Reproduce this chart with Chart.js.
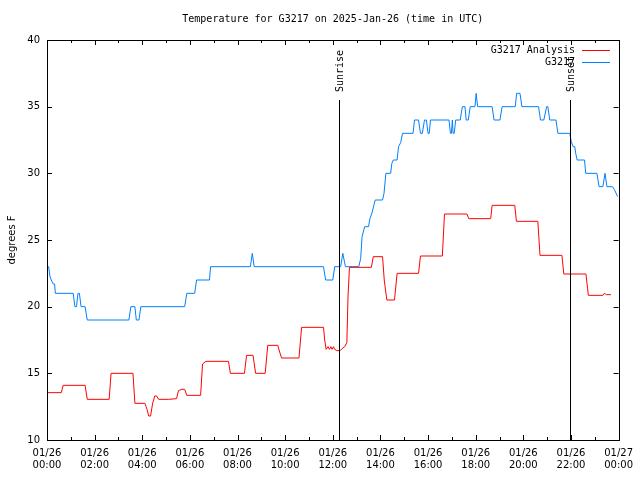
<!DOCTYPE html>
<html lang="en">
<head>
    <meta charset="UTF-8">
    <title>Temperature for G3217</title>
    <script src="https://cdn.jsdelivr.net/npm/chart.js@4.4.1/dist/chart.umd.min.js"></script>
    <style>
        body { margin: 0; background: #fff; }
        canvas { display: block; }
    </style>
</head>
<body>
    <canvas id="tempChart" width="640" height="480"></canvas>

    <script>
        // Data (hours since 00:00 UTC, degrees F)
        const analysisHours = [0, 0.6, 0.68, 1.6, 1.69, 2.61, 2.69, 3.61, 3.69, 4.11, 4.16, 4.2, 4.27, 4.35, 4.44, 4.48, 4.52, 4.6, 4.69, 5.11, 5.44, 5.52, 5.66, 5.78, 5.87, 6.45, 6.53, 6.67, 7.62, 7.7, 8.29, 8.38, 8.65, 8.76, 9.16, 9.27, 9.69, 9.77, 9.85, 10.58, 10.69, 11.61, 11.66, 11.72, 11.8, 11.86, 11.92, 11.97, 12.03, 12.08, 12.17, 12.31, 12.42, 12.5, 12.59, 12.64, 12.7, 13.62, 13.7, 14.09, 14.16, 14.27, 14.59, 14.7, 15.6, 15.68, 16.6, 16.69, 17.63, 17.71, 18.63, 18.69, 19.64, 19.71, 20.61, 20.7, 21.62, 21.7, 22.63, 22.73, 23.34, 23.4, 23.45, 23.5, 23.68];
        const analysisTemps = [13.55, 13.55, 14.1, 14.1, 13.05, 13.05, 15, 15, 12.75, 12.75, 12.5, 12.3, 11.8, 11.8, 12.8, 13.0, 13.3, 13.3, 13.05, 13.05, 13.1, 13.7, 13.8, 13.8, 13.35, 13.35, 15.7, 15.9, 15.9, 15, 15, 16.35, 16.35, 15, 15, 17.1, 17.1, 16.6, 16.15, 16.15, 18.45, 18.45, 17.5, 16.8, 17.0, 16.8, 17.0, 16.8, 17.0, 16.8, 16.7, 16.7, 16.9, 17.0, 17.3, 20.8, 22.95, 22.95, 23.75, 23.75, 22, 20.5, 20.5, 22.5, 22.5, 23.8, 23.8, 26.95, 26.95, 26.6, 26.6, 27.6, 27.6, 26.4, 26.4, 23.85, 23.85, 22.45, 22.45, 20.85, 20.85, 21.0, 20.95, 20.9, 20.9];

        const obsHours = [0, 0.07, 0.12, 0.18, 0.26, 0.32, 0.35, 1.1, 1.17, 1.24, 1.3, 1.36, 1.43, 1.6, 1.69, 3.44, 3.52, 3.69, 3.75, 3.86, 3.94, 5.78, 5.87, 6.2, 6.28, 6.82, 6.87, 8.54, 8.62, 8.7, 11.61, 11.7, 12.0, 12.08, 12.33, 12.42, 12.53, 13.09, 13.17, 13.23, 13.3, 13.34, 13.5, 13.56, 13.64, 13.78, 14.09, 14.15, 14.23, 14.43, 14.48, 14.54, 14.7, 14.76, 14.85, 14.93, 15.37, 15.43, 15.6, 15.68, 15.76, 15.85, 15.93, 16.0, 16.05, 16.1, 16.88, 16.94, 16.98, 17.02, 17.05, 17.1, 17.16, 17.35, 17.44, 17.55, 17.6, 17.69, 17.77, 17.97, 18.02, 18.08, 18.13, 18.69, 18.77, 19.02, 19.11, 19.66, 19.72, 19.86, 19.94, 20.64, 20.72, 20.86, 20.98, 21.03, 21.11, 21.37, 21.45, 21.95, 22.01, 22.09, 22.16, 22.2, 22.26, 22.57, 22.62, 23.09, 23.18, 23.34, 23.43, 23.51, 23.74, 23.82, 23.96];
        const obsTemps = [23, 23, 22.3, 22, 21.7, 21.7, 21, 21, 20, 20, 21, 21, 20, 20, 19, 19, 20, 20, 19, 19, 20, 20, 21, 21, 22, 22, 23, 23, 24, 23, 23, 22, 22, 23, 23, 24, 23, 23, 23.6, 25.25, 25.75, 26, 26, 26.6, 27, 28, 28, 28.5, 30, 30, 30.75, 31, 31, 32, 32.3, 33, 33, 34, 34, 33, 33, 34, 34, 33, 33, 34, 34, 33, 33, 34, 33, 33, 34, 34, 35, 35, 34, 34, 35, 35, 36, 35, 35, 35, 34, 34, 35, 35, 36, 36, 35, 35, 34, 34, 35, 35, 34, 34, 33, 33, 32.4, 32, 32, 31.5, 31, 31, 30, 30, 29, 29, 30, 29, 29, 28.8, 28.25];

        const seriesLabels = ['G3217 Analysis', 'G3217'];
        const seriesColors = ['#ff0000', '#0080ff'];

        const sunLabels = ['Sunrise', 'Sunset'];
        const sunHours = [12.26, 21.96];
        const sunLineTop = 35.5;

        const xTickDay = ['01/26', '01/27'];
        const yTicks = [10, 15, 20, 25, 30, 35, 40];

        const monoFont = '10px "DejaVu Sans Mono", monospace';

        function toPoints(hours, temps) {
            return hours.map((h, i) => ({ x: h, y: temps[i] }));
        }

        // Frame, inward ticks, sunrise/sunset markers and legend
        const decorations = {
            id: 'decorations',
            afterDatasetsDraw(chart) {
                const { ctx, chartArea: a, scales: { x, y } } = chart;
                ctx.save();
                ctx.strokeStyle = '#000';
                ctx.lineWidth = 1;

                // sunrise / sunset
                ctx.fillStyle = '#000';
                ctx.font = monoFont;
                sunHours.forEach((h, i) => {
                    const px = Math.round(x.getPixelForValue(h)) + 0.5;
                    const top = y.getPixelForValue(sunLineTop);
                    ctx.beginPath();
                    ctx.moveTo(px, top);
                    ctx.lineTo(px, a.bottom);
                    ctx.stroke();
                    ctx.save();
                    ctx.translate(px + 1, top - 8);
                    ctx.rotate(-Math.PI / 2);
                    ctx.textAlign = 'left';
                    ctx.textBaseline = 'middle';
                    ctx.fillText(sunLabels[i], 0, 0);
                    ctx.restore();
                });

                // frame
                ctx.strokeRect(Math.round(a.left) + 0.5, Math.round(a.top) + 0.5,
                    Math.round(a.right - a.left), Math.round(a.bottom - a.top));

                // x ticks every hour, longer on even hours
                ctx.beginPath();
                for (let h = 0; h <= 24; h++) {
                    const px = Math.round(x.getPixelForValue(h)) + 0.5;
                    const len = h % 2 === 0 ? 5 : 3;
                    ctx.moveTo(px, a.bottom);
                    ctx.lineTo(px, a.bottom - len);
                    ctx.moveTo(px, a.top);
                    ctx.lineTo(px, a.top + len);
                }
                yTicks.forEach(v => {
                    const py = Math.round(y.getPixelForValue(v)) + 0.5;
                    ctx.moveTo(a.left, py);
                    ctx.lineTo(a.left + 5, py);
                    ctx.moveTo(a.right, py);
                    ctx.lineTo(a.right - 5, py);
                });
                ctx.stroke();

                // legend
                ctx.font = monoFont;
                ctx.textAlign = 'right';
                ctx.textBaseline = 'middle';
                chart.data.datasets.forEach((ds, i) => {
                    const ly = 50.5 + i * 12;
                    ctx.fillStyle = '#000';
                    ctx.fillText(ds.label, 575, ly);
                    ctx.strokeStyle = ds.borderColor;
                    ctx.beginPath();
                    ctx.moveTo(582, ly);
                    ctx.lineTo(610, ly);
                    ctx.stroke();
                });
                ctx.restore();
            }
        };

        Chart.defaults.color = '#000';
        Chart.defaults.font.family = '"DejaVu Sans", sans-serif';
        Chart.defaults.font.size = 10;

        new Chart(document.getElementById('tempChart'), {
            type: 'line',
            data: {
                datasets: [
                    {
                        label: seriesLabels[0],
                        data: toPoints(analysisHours, analysisTemps),
                        borderColor: seriesColors[0],
                        borderWidth: 1,
                        pointRadius: 0,
                        tension: 0,
                        fill: false
                    },
                    {
                        label: seriesLabels[1],
                        data: toPoints(obsHours, obsTemps),
                        borderColor: seriesColors[1],
                        borderWidth: 1,
                        pointRadius: 0,
                        tension: 0,
                        fill: false
                    }
                ]
            },
            options: {
                responsive: false,
                animation: false,
                devicePixelRatio: 1,
                layout: { padding: { left: 0, right: 19, top: 0, bottom: 0 } },
                plugins: {
                    legend: { display: false },
                    tooltip: { enabled: false },
                    title: {
                        display: true,
                        text: 'Temperature for G3217 on 2025-Jan-26 (time in UTC)',
                        fullSize: false,
                        font: { family: '"DejaVu Sans Mono", monospace', size: 10, weight: 'normal' },
                        padding: { top: 13, bottom: 15 }
                    }
                },
                scales: {
                    x: {
                        type: 'linear',
                        min: 0,
                        max: 24,
                        grid: { display: false, drawTicks: false },
                        border: { display: false },
                        afterFit: s => { s.height = 40; },
                        ticks: {
                            stepSize: 2,
                            autoSkip: false,
                            maxRotation: 0,
                            padding: 7,
                            callback: v => {
                                const day = v >= 24 ? xTickDay[1] : xTickDay[0];
                                const hh = String(v % 24).padStart(2, '0');
                                return [day, hh + ':00'];
                            }
                        }
                    },
                    y: {
                        min: 10,
                        max: 40,
                        grid: { display: false, drawTicks: false },
                        border: { display: false },
                        afterFit: s => { s.width = 47; },
                        ticks: { stepSize: 5, padding: 7 },
                        title: {
                            display: true,
                            text: 'degrees F',
                            padding: { top: 6, bottom: 0 }
                        }
                    }
                }
            },
            plugins: [decorations]
        });
    </script>
</body>
</html>
